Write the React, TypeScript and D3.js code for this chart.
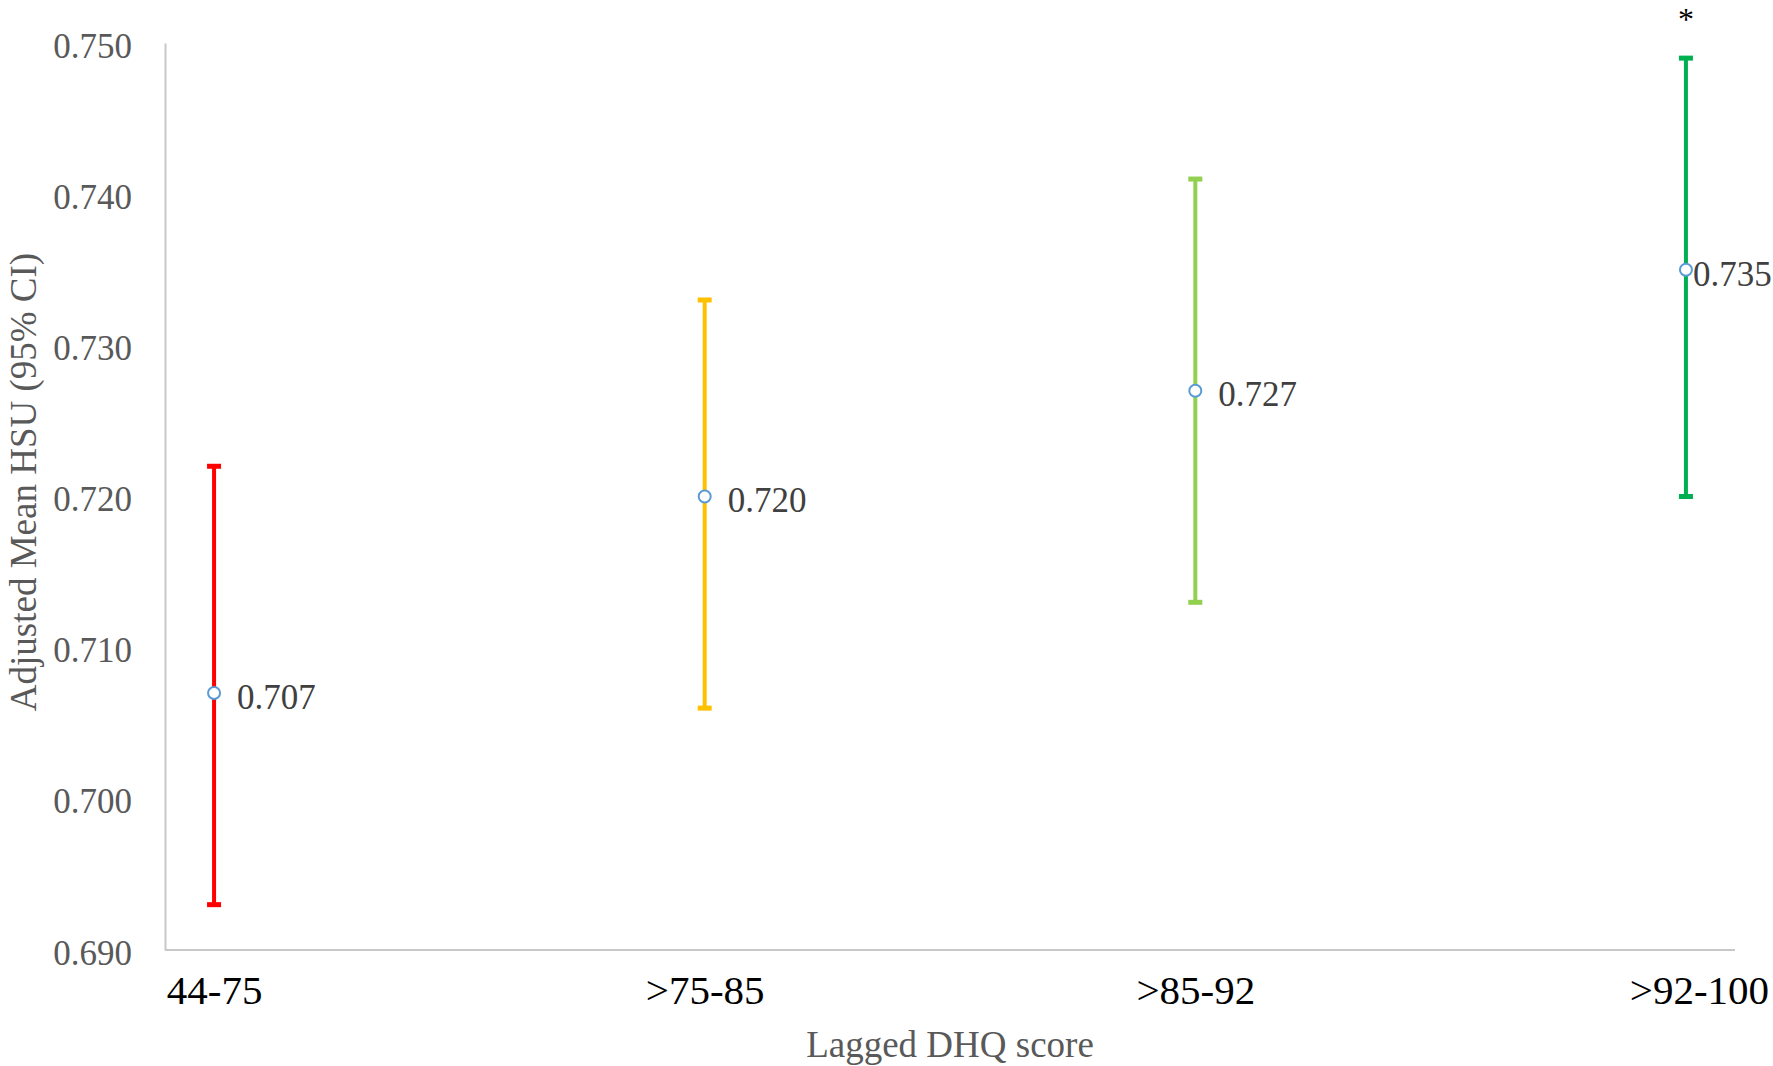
import React, { useEffect, useRef } from 'react';
import { select, scaleLinear, scalePoint, axisLeft, axisBottom } from 'd3';

const categories = ['44-75', '>75-85', '>85-92', '>92-100'];
const means = [0.707, 0.72, 0.727, 0.735];
const lower = [0.693, 0.706, 0.713, 0.72];
const upper = [0.722, 0.733, 0.741, 0.749];
const barColors = ['#FF0000', '#FFC000', '#92D050', '#00B050'];
const yTicks = [0.69, 0.7, 0.71, 0.72, 0.73, 0.74, 0.75];
const significant = [false, false, false, true];

const width = 1773;
const height = 1066;
const font = '"Liberation Serif", "DejaVu Serif", serif';

const drawChart = (node: SVGSVGElement) => {
  const svg = select(node);
  svg.selectAll('*').remove();

  const padding = { left: 165, right: 38, top: 43, bottom: 116 };

  const xScale = scalePoint<string>()
    .domain(categories)
    .range([padding.left, width - padding.right])
    .padding(0.1);

  const yScale = scaleLinear()
    .domain([0.69, 0.75])
    .range([height - padding.bottom, padding.top]);

  // y axis
  const yAxis = svg.append('g')
    .attr('transform', `translate(${padding.left},0)`)
    .call(axisLeft(yScale).tickValues(yTicks).tickFormat(d => (+d).toFixed(3)).tickSize(0).tickPadding(33));
  yAxis.select('.domain').attr('stroke', '#C8C8C8').attr('stroke-width', 2);
  yAxis.selectAll('text')
    .attr('font-family', font)
    .attr('font-size', 35)
    .attr('fill', '#595959')
    .attr('dy', '0.4em');

  // x axis
  const xAxis = svg.append('g')
    .attr('transform', `translate(0,${height - padding.bottom})`)
    .call(axisBottom(xScale).tickSize(0).tickPadding(23));
  xAxis.select('.domain').attr('stroke', '#C8C8C8').attr('stroke-width', 2)
    .attr('d', `M${padding.left},0H${width - padding.right}`);
  xAxis.selectAll('text')
    .attr('font-family', font)
    .attr('font-size', 41)
    .attr('fill', '#000000')
    .attr('dy', '0.75em')
    .attr('dx', (d, i) => (i === categories.length - 1 ? 13 : 0));

  const data = categories.map((c, i) => ({
    c, mean: means[i], lo: lower[i], hi: upper[i], color: barColors[i], star: significant[i]
  }));

  const capW = 14;
  const g = svg.append('g');

  g.selectAll('.err')
    .data(data)
    .enter()
    .append('line')
    .attr('class', 'err')
    .attr('x1', d => xScale(d.c)!)
    .attr('x2', d => xScale(d.c)!)
    .attr('y1', d => yScale(d.lo))
    .attr('y2', d => yScale(d.hi))
    .attr('stroke', d => d.color)
    .attr('stroke-width', 4);

  ['lo', 'hi'].forEach(k => {
    g.selectAll(`.cap-${k}`)
      .data(data)
      .enter()
      .append('line')
      .attr('class', `cap-${k}`)
      .attr('x1', d => xScale(d.c)! - capW / 2)
      .attr('x2', d => xScale(d.c)! + capW / 2)
      .attr('y1', d => yScale((d as any)[k]))
      .attr('y2', d => yScale((d as any)[k]))
      .attr('stroke', d => d.color)
      .attr('stroke-width', 5);
  });

  g.selectAll('.pt')
    .data(data)
    .enter()
    .append('circle')
    .attr('class', 'pt')
    .attr('cx', d => xScale(d.c)!)
    .attr('cy', d => yScale(d.mean))
    .attr('r', 6)
    .attr('fill', '#FFFFFF')
    .attr('stroke', '#5B9BD5')
    .attr('stroke-width', 2);

  g.selectAll('.val')
    .data(data)
    .enter()
    .append('text')
    .attr('class', 'val')
    .attr('x', (d, i) => xScale(d.c)! + (i === data.length - 1 ? 7 : 23))
    .attr('y', d => yScale(d.mean))
    .attr('dy', '0.45em')
    .attr('font-family', font)
    .attr('font-size', 35)
    .attr('fill', '#404040')
    .text(d => d.mean.toFixed(3));

  g.selectAll('.star')
    .data(data.filter(d => d.star))
    .enter()
    .append('text')
    .attr('class', 'star')
    .attr('x', d => xScale(d.c)!)
    .attr('y', 30)
    .attr('text-anchor', 'middle')
    .attr('font-family', font)
    .attr('font-size', 32)
    .attr('fill', '#000000')
    .text('*');

  // axis titles
  svg.append('text')
    .attr('transform', 'translate(36,482) rotate(-90)')
    .attr('text-anchor', 'middle')
    .attr('font-family', font)
    .attr('font-size', 37)
    .attr('fill', '#595959')
    .text('Adjusted Mean HSU (95% CI)');

  svg.append('text')
    .attr('x', 950)
    .attr('y', 1057)
    .attr('text-anchor', 'middle')
    .attr('font-family', font)
    .attr('font-size', 37)
    .attr('fill', '#595959')
    .text('Lagged DHQ score');
};

const App = () => {
  const ref = useRef<SVGSVGElement>(null);

  useEffect(() => {
    if (ref.current) drawChart(ref.current);
  }, []);

  return (
    <svg
      ref={ref}
      width={width}
      height={height}
      style={{ position: 'absolute', left: 0, top: 0, background: '#FFFFFF' }}
    />
  );
};

export default App;
